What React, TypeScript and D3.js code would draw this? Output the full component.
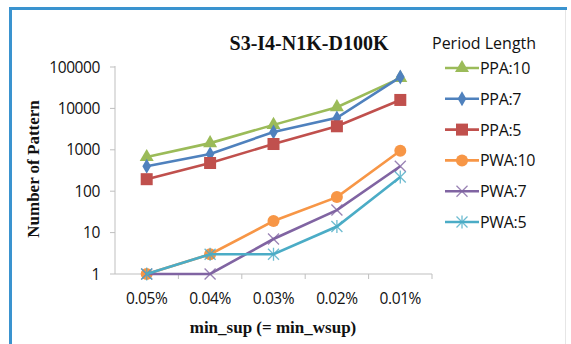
import React from "react";
import * as d3 from "d3";

const categories = ["0.05%", "0.04%", "0.03%", "0.02%", "0.01%"];
const yTicks = [1, 10, 100, 1000, 10000, 100000];
const seriesNames = ["PPA:10", "PPA:7", "PPA:5", "PWA:10", "PWA:7", "PWA:5"];
const ppa10 = [670, 1450, 4000, 10700, 54000];
const ppa7 = [400, 790, 2700, 5900, 57000];
const ppa5 = [195, 480, 1380, 3700, 16000];
const pwa10 = [1, 3, 19, 72, 950];
const pwa7 = [1, 1, 7, 35, 400];
const pwa5 = [1, 3, 3, 14, 220];
const seriesValues = [ppa10, ppa7, ppa5, pwa10, pwa7, pwa5];
const colors = ["#9BBB59", "#4F81BD", "#C0504D", "#F79646", "#8064A2", "#4BACC6"];
const markers = ["triangle", "diamond", "square", "circle", "x", "star"];

function Marker({ type, x, y, color }: { type: string; x: number; y: number; color: string }) {
  if (type === "triangle") {
    const p = d3.symbol(d3.symbolTriangle, 85)();
    return <path d={p || ""} transform={`translate(${x},${y})`} fill={color} />;
  }
  if (type === "diamond") {
    const p = d3.symbol(d3.symbolDiamond, 65)();
    return <path d={p || ""} transform={`translate(${x},${y})`} fill={color} />;
  }
  if (type === "square") {
    return <rect x={x - 6} y={y - 6} width={12} height={12} fill={color} />;
  }
  if (type === "circle") {
    return <circle cx={x} cy={y} r={6} fill={color} />;
  }
  if (type === "x") {
    return (
      <g stroke={color} strokeWidth={1.3} opacity={0.8}>
        <line x1={x - 5.5} y1={y - 5.5} x2={x + 5.5} y2={y + 5.5} />
        <line x1={x - 5.5} y1={y + 5.5} x2={x + 5.5} y2={y - 5.5} />
      </g>
    );
  }
  return (
    <g stroke={color} strokeWidth={1.3} opacity={0.8}>
      <line x1={x - 5.5} y1={y - 5.5} x2={x + 5.5} y2={y + 5.5} />
      <line x1={x - 5.5} y1={y + 5.5} x2={x + 5.5} y2={y - 5.5} />
      <line x1={x} y1={y - 6.5} x2={x} y2={y + 6.5} />
    </g>
  );
}

export default function App() {
  const W = 571, H = 344;
  const left = 115, right = 432, top = 67, bottom = 274;
  const x = d3.scaleBand<string>().domain(categories).range([left, right]);
  const y = d3.scaleLog().domain([1, 100000]).range([bottom, top]);
  const cx = (c: string) => (x(c) as number) + x.bandwidth() / 2;
  const line = d3
    .line<number>()
    .x((_, i) => cx(categories[i]))
    .y((d) => y(d));
  const serif = "'Liberation Serif', 'Times New Roman', serif";
  const sans = "'Open Sans', 'Noto Sans', sans-serif";
  const legendX = 445, legendY0 = 68, legendStep = 30.8;

  return (
    <svg
      width={W}
      height={H}
      style={{ position: "absolute", left: 0, top: 0, background: "#fff" }}
    >
      <rect x={0} y={0} width={W} height={H} fill="#fff" />
      {/* frame */}
      <line x1={565.5} y1={8} x2={565.5} y2={H} stroke="#e6e6e6" strokeWidth={1} />
      <line x1={10} y1={8.5} x2={567} y2={8.5} stroke="#3a93cf" strokeWidth={3} />
      <line x1={10.5} y1={7} x2={10.5} y2={H} stroke="#3a93cf" strokeWidth={3} />

      {/* title */}
      <text x={309} y={50} textAnchor="middle" fontFamily={serif} fontWeight="bold" fontSize={20} fill="#111">
        S3-I4-N1K-D100K
      </text>

      {/* axes */}
      <line x1={left} y1={top - 1} x2={left} y2={bottom} stroke="#bfbfbf" />
      <line x1={left} y1={bottom} x2={right} y2={bottom} stroke="#bfbfbf" />
      {yTicks.map((t) => (
        <g key={t}>
          <line x1={left - 5} x2={left} y1={y(t)} y2={y(t)} stroke="#bfbfbf" />
          <text x={left - 15} y={y(t) + 5.5} textAnchor="end" fontFamily={sans} fontSize={15.5} fill="#111" letterSpacing={-0.4}>
            {t}
          </text>
        </g>
      ))}
      {categories.map((c) => (
        <g key={c}>
          <line x1={(x(c) as number) + x.bandwidth()} x2={(x(c) as number) + x.bandwidth()} y1={bottom} y2={bottom + 5} stroke="#bfbfbf" />
          <text x={cx(c)} y={bottom + 30} textAnchor="middle" fontFamily={sans} fontSize={15.5} fill="#111" letterSpacing={-0.4}>
            {c}
          </text>
        </g>
      ))}
      <text x={273} y={333} textAnchor="middle" fontFamily={serif} fontWeight="bold" fontSize={17} fill="#111">
        min_sup (= min_wsup)
      </text>
      <text
        transform={`translate(39,169) rotate(-90)`}
        textAnchor="middle"
        fontFamily={serif}
        fontWeight="bold"
        fontSize={17}
        fill="#111"
      >
        Number of Pattern
      </text>

      {/* series */}
      {seriesValues.map((vals, si) => (
        <g key={seriesNames[si]}>
          <path d={line(vals) || ""} fill="none" stroke={colors[si]} strokeWidth={2.6} />
          {vals.map((v, i) => (
            <Marker key={i} type={markers[si]} x={cx(categories[i])} y={y(v)} color={colors[si]} />
          ))}
        </g>
      ))}

      {/* legend */}
      <text x={432} y={49} fontFamily={sans} fontSize={16} fill="#111">
        Period Length
      </text>
      {seriesNames.map((n, i) => {
        const ly = legendY0 + i * legendStep;
        return (
          <g key={n}>
            <line x1={legendX} x2={legendX + 34} y1={ly} y2={ly} stroke={colors[i]} strokeWidth={2.6} />
            <Marker type={markers[i]} x={legendX + 17} y={ly} color={colors[i]} />
            <text x={legendX + 35} y={ly + 6} fontFamily={sans} fontSize={16} fill="#111" letterSpacing={-0.3}>
              {n}
            </text>
          </g>
        );
      })}
    </svg>
  );
}
